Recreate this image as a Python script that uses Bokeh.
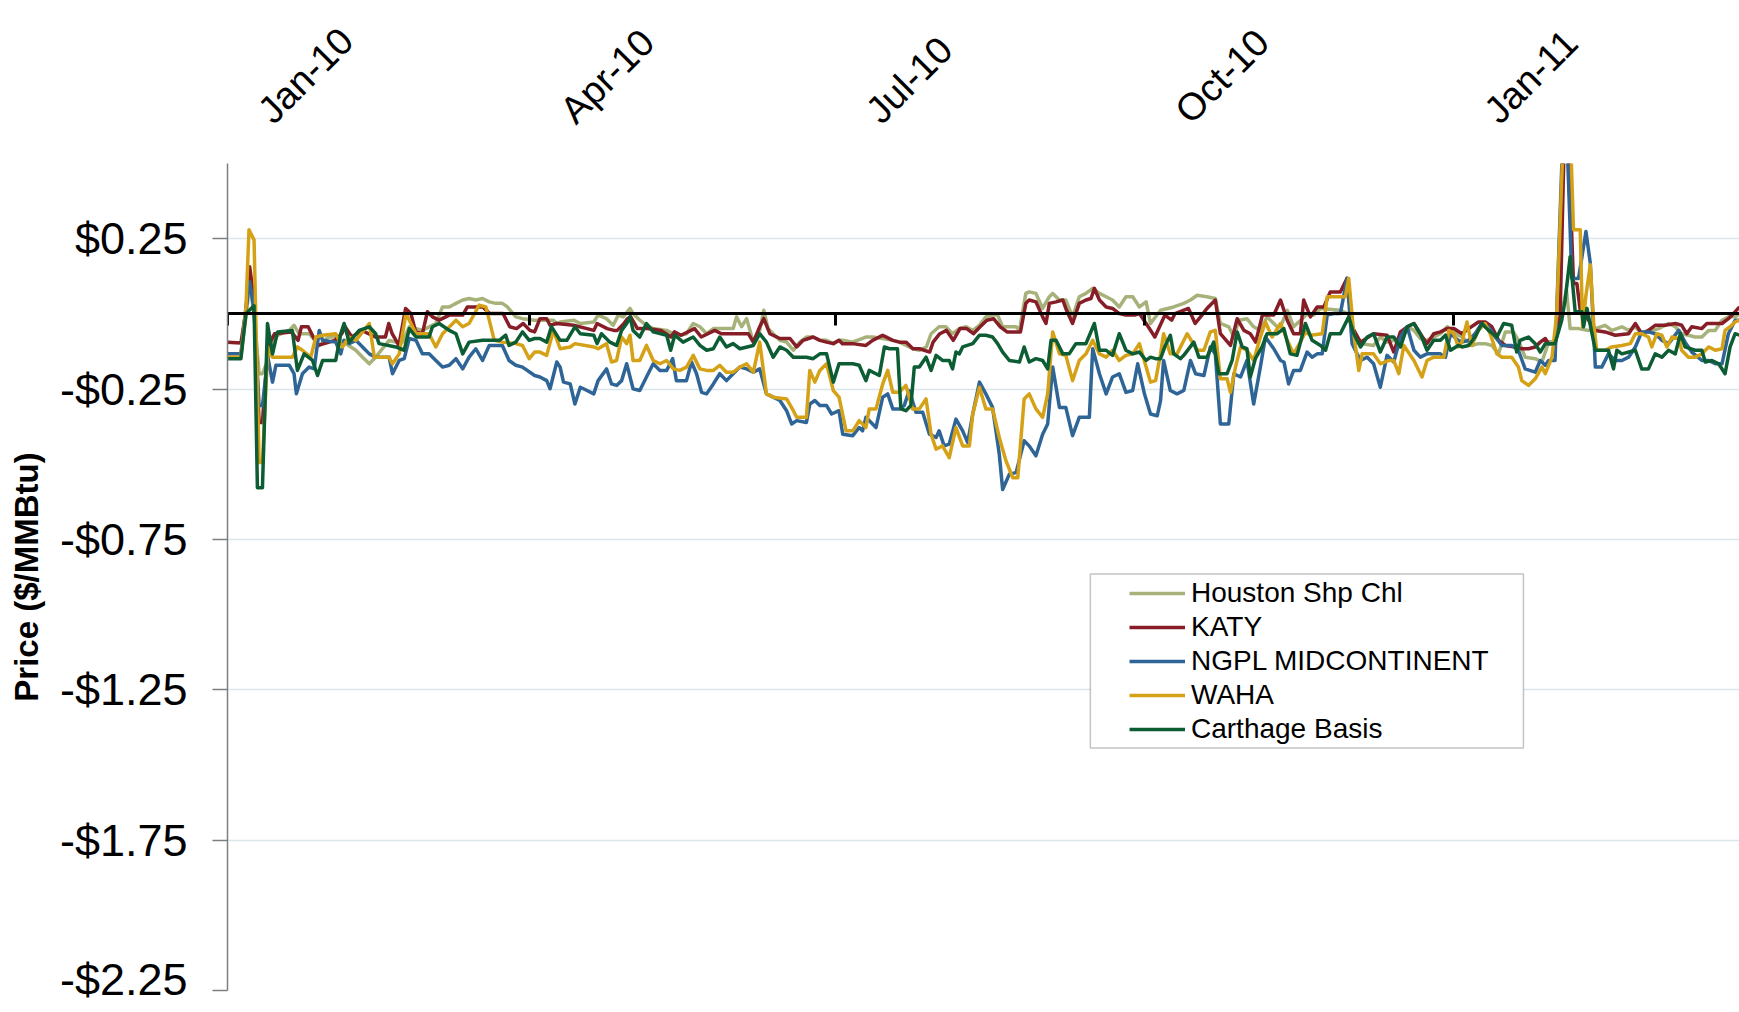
import math
import numpy as np
import pandas as pd
from bokeh.plotting import figure
from bokeh.models import (Range1d, FixedTicker, DatetimeAxis, DatetimeTickFormatter,
                          CustomJSTickFormatter, Legend, LegendItem, BoxAnnotation)
from bokeh.embed import file_html
from bokeh.resources import INLINE

# ---------------- data (day offset from 2010-01-01, $/MMBtu) ----------------
houston = [(0,-0.133),(4,-0.133),(5.5,-0.01),(6.6,0.1),(7.9,0.0),(9.4,-0.199),(10.4,-0.199),(12,-0.155),(13.4,-0.088),(15,-0.071),(18.4,-0.055),(19.8,-0.038),(21.3,-0.066),(24.3,-0.066),(27.3,-0.105),(30,-0.077),(32.2,-0.077),(38.2,-0.121),(40.2,-0.144),(42.2,-0.166),(44.1,-0.144),(48.1,-0.088),(50.1,-0.094),(52.1,-0.094),(54.1,-0.043),(58,-0.055),(62,-0.032),(64,0.023),(66,0.023),(68,0.035),(70,0.046),(71.9,0.051),(73.9,0.046),(75.9,0.051),(77.9,0.04),(79.9,0.035),(81.8,0.035),(83.3,0.023),(85.8,-0.01),(87.8,-0.016),(91.4,-0.021),
    (93,-0.021),(97,-0.021),(98,-0.032),(99,-0.027),(103,-0.021),(105,-0.032),(109,-0.027),(110.3,-0.004),(112.8,-0.016),(114.8,-0.038),(116.3,-0.004),(117.8,-0.01),(119.8,0.018),(120.7,0.001),(122.7,-0.021),(124.7,-0.038),(126.7,-0.049),(130.7,-0.055),(132.7,-0.066),(134.6,-0.071),(136.6,-0.066),(138.6,-0.032),(140.6,-0.043),(142.6,-0.066),(144.6,-0.049),(150.5,-0.049),(151.5,-0.01),(153,-0.043),(154.5,-0.016),(156.5,-0.094),(158.4,-0.055),(159.6,0.012),(160.9,-0.049),(162.4,-0.066),(164.4,-0.088),(166.4,-0.094),(168.4,-0.121),(170.3,-0.094),(172.3,-0.077),(174.3,-0.077),(176.3,-0.088),(178.3,-0.088),(180.3,-0.099),(182,-0.088),
    (183.1,-0.088),(186,-0.094),(190,-0.077),(192,-0.077),(195,-0.082),(198,-0.088),(200,-0.094),(204,-0.116),(206,-0.121),(208,-0.11),(209.4,-0.066),(211.8,-0.043),(213.8,-0.043),(215.8,-0.066),(217.8,-0.049),(219.8,-0.043),(221.8,-0.055),(223.8,-0.038),(225.7,-0.01),(227.7,-0.004),(229.2,-0.004),(230.7,-0.043),(234.7,-0.043),(235.7,-0.055),(237.6,0.068),(238.6,0.073),(240.6,0.068),(242.6,0.018),(244.6,0.057),(245.6,0.068),(247.6,0.046),(249.5,0.046),(251.5,-0.01),(253.5,0.057),(255.5,0.068),(257.5,0.085),(259.5,0.068),(261.5,0.057),(263.4,0.046),(265.4,0.023),(267.4,0.057),(269.4,0.057),(271.4,0.023),(273.4,0.04),
    (274.7,-0.032),(277.7,0.012),(281.6,0.023),(284.6,0.035),(286.6,0.046),(288.6,0.062),(291.5,0.057),(294,0.051),(295.5,-0.032),(298,-0.043),(299.5,-0.077),(301,-0.021),(303.4,-0.016),(305.4,-0.043),(307.4,-0.055),(309.4,-0.01),(312.4,-0.043),(313.4,-0.043),(315.4,0.012),(317.3,-0.043),(321.3,-0.001),(323.3,-0.004),(325.3,0.018),(331.2,0.012),(333.7,-0.001),(335.2,-0.066),(337.2,-0.099),(341.1,-0.105),(343.1,-0.077),(345.1,-0.094),(347.1,-0.088),(349.1,-0.099),(351.1,-0.043),(353.1,-0.055),(355,-0.082),(357,-0.088),(361,-0.066),(363,-0.043),(364.5,-0.055),(366.3,-0.071),
    (367.4,-0.077),(370.3,-0.105),(372.3,-0.099),(374.3,-0.099),(376.3,-0.105),(378.3,-0.133),(380.3,-0.06),(382.7,-0.06),(384.2,-0.088),(386.2,-0.144),(389.2,-0.149),(391.2,-0.16),(393.2,-0.094),(395.1,-0.088),(396.6,-0.021),(398.5,0.08),(399.6,-0.049),(402.1,-0.049),(405.1,-0.055),(407.1,-0.049),(410,-0.038),(412,-0.055),(415,-0.043),(417,-0.055),(419,-0.043),(420.9,-0.066),(422.9,-0.06),(425.9,-0.049),(428.9,-0.032),(430.9,-0.043),(432.8,-0.066),(434.8,-0.071),(436.8,-0.077),(438.8,-0.077),(440.8,-0.055),(442.8,-0.055),(444.8,-0.021),(446.7,-0.01),(448.7,-0.01),(450,0.001)]

katy = [(0,-0.094),(4,-0.097),(5.5,0.012),(6.6,0.157),(7.9,0.046),(9.4,-0.361),(10.4,-0.361),(12,-0.11),(14,-0.066),(19,-0.06),(21,-0.088),(22,-0.043),(24,-0.043),(26,-0.088),(27,-0.105),(32,-0.088),(34,-0.066),(35,-0.043),(37,-0.077),(40,-0.055),(42,-0.066),(44,-0.077),(47,-0.077),(48,-0.032),(49,-0.066),(51,-0.105),(53,0.018),(54.6,0.001),(56,-0.06),(58,-0.066),(59.5,0.007),(61,-0.01),(63,-0.021),(66,-0.004),(70,-0.004),(71.4,0.023),(76,0.023),(78,0.001),(82,0.001),(84,-0.043),(86,-0.049),(88,-0.032),(90,-0.055),(91.4,-0.06),
    (93,-0.016),(95,-0.016),(96,-0.038),(98,-0.032),(103,-0.038),(107,-0.049),(109,-0.055),(110,-0.032),(113,-0.049),(115,-0.055),(116,-0.055),(118,-0.032),(119,-0.016),(120,-0.01),(122,-0.049),(125,-0.049),(129,-0.055),(132,-0.077),(133,-0.06),(135,-0.071),(139,-0.049),(141,-0.077),(145,-0.055),(147,-0.066),(152.5,-0.066),(155,-0.066),(156.5,-0.094),(158.4,-0.043),(159.6,-0.016),(161.4,-0.066),(164.4,-0.082),(167.4,-0.082),(169.4,-0.11),(171.3,-0.088),(174.3,-0.077),(176.3,-0.088),(178.3,-0.094),(180.3,-0.099),(182,-0.088),
    (183,-0.099),(186,-0.099),(190,-0.105),(192,-0.088),(195,-0.071),(198,-0.088),(200,-0.094),(202,-0.094),(204,-0.116),(206,-0.116),(209,-0.127),(210,-0.094),(212,-0.066),(214,-0.055),(216,-0.088),(218,-0.049),(220,-0.049),(222,-0.066),(224,-0.043),(226,-0.021),(228,-0.016),(230,-0.043),(232,-0.06),(236,-0.06),(237.6,0.035),(238.6,0.046),(240.6,0.04),(242.6,-0.01),(243.6,-0.032),(244.6,0.035),(246.6,0.04),(248.6,0.046),(249.5,0.018),(251.5,-0.032),(253.5,0.035),(255.5,0.046),(257,0.051),(258,0.085),(259.5,0.046),(261.5,0.023),(263.4,0.018),(265.4,0.001),(267.4,-0.004),(270,-0.004),(271.4,0.001),(273.4,-0.032),
    (276,-0.077),(279,-0.004),(281,-0.021),(282,0.001),(286,0.018),(288,-0.032),(290,-0.004),(291.5,0.018),(294,0.046),(295.5,-0.066),(298.5,-0.105),(300.5,-0.016),(302.5,-0.055),(304.4,-0.066),(306,-0.094),(308,-0.004),(311.4,-0.004),(313.4,0.046),(315.4,-0.021),(317.3,-0.066),(319.3,-0.066),(320.3,0.046),(322.3,-0.01),(324.3,0.023),(326.3,0.023),(328.2,0.073),(331.2,0.073),(333.2,0.118),(334.7,-0.043),(337.2,-0.094),(341.1,-0.066),(345.1,-0.071),(347.1,-0.127),(349.1,-0.06),(351.1,-0.043),(353.1,-0.032),(355,-0.066),(357,-0.099),(359,-0.066),(361,-0.06),(363,-0.049),(365,-0.049),
    (367.4,-0.066),(369.4,-0.049),(372.3,-0.027),(374.3,-0.027),(376.3,-0.043),(378.3,-0.088),(380.3,-0.105),(383.2,-0.11),(385.2,-0.116),(387.2,-0.116),(389.2,-0.11),(390.7,-0.094),(392.2,-0.082),(393.2,-0.099),(395.1,-0.099),(396.6,-0.01),(398.3,0.8),(400.6,0.101),(401.6,0.101),(402.6,0.012),(403.6,0.012),(405.1,-0.021),(407.1,-0.055),(410,-0.06),(413,-0.071),(417,-0.066),(419,-0.032),(420.9,-0.066),(422.9,-0.055),(424.9,-0.038),(427.9,-0.038),(430.9,-0.032),(432.8,-0.038),(434.3,-0.066),(435.8,-0.043),(438.8,-0.049),(440.3,-0.032),(442.8,-0.032),(444.8,-0.032),(446.7,-0.016),(448.2,0.001),(450,0.023)]

ngpl = [(0,-0.133),(4,-0.133),(5.5,0.023),(6.6,0.107),(7.9,0.012),(9.4,-0.305),(10.4,-0.305),(12,-0.144),(13.4,-0.227),(14.4,-0.171),(18.4,-0.171),(19.8,-0.199),(20.5,-0.266),(22.3,-0.199),(24.3,-0.177),(25.8,-0.183),(27.3,-0.055),(28.3,-0.088),(32.2,-0.094),(33.7,-0.133),(34.7,-0.088),(36.2,-0.099),(38.2,-0.088),(40.2,-0.11),(42.2,-0.133),(44.1,-0.144),(48.1,-0.144),(49.1,-0.199),(51.1,-0.155),(52.6,-0.149),(54.1,-0.082),(56.1,-0.088),(58,-0.133),(60,-0.133),(62,-0.155),(64,-0.177),(66,-0.171),(68,-0.149),(70,-0.183),(71.9,-0.144),(73.9,-0.116),(75.9,-0.155),(77.9,-0.105),(81.8,-0.105),(83.8,-0.155),(85.8,-0.171),(87.8,-0.177),(91.4,-0.205),
    (93,-0.21),(95,-0.222),(96,-0.249),(98,-0.16),(99,-0.177),(100,-0.227),(102,-0.233),(103.4,-0.3),(105,-0.244),(107,-0.255),(109,-0.266),(110.3,-0.222),(112.8,-0.183),(114.3,-0.233),(115.8,-0.238),(117.3,-0.222),(118.8,-0.166),(120.7,-0.249),(122.7,-0.255),(124.7,-0.21),(126.7,-0.166),(128.7,-0.188),(130.7,-0.188),(132.5,-0.149),(133.6,-0.222),(136.6,-0.222),(138.1,-0.16),(139.6,-0.199),(141.1,-0.261),(142.6,-0.266),(144.6,-0.233),(146.5,-0.199),(148.5,-0.222),(150.5,-0.199),(152.5,-0.177),(154.5,-0.183),(156.5,-0.194),(158.4,-0.183),(160.4,-0.266),(162.4,-0.277),(164.4,-0.288),(166.4,-0.322),(167.9,-0.366),(169.4,-0.355),(172.3,-0.361),(173.3,-0.3),(174.8,-0.288),(176.3,-0.305),(178.3,-0.305),(179.8,-0.333),(182,-0.322),
    (183.1,-0.4),(186.1,-0.405),(188,-0.378),(189,-0.389),(190,-0.344),(193,-0.378),(195,-0.277),(196.5,-0.266),(198,-0.316),(200,-0.316),(201.4,-0.305),(202.9,-0.255),(204.9,-0.327),(206.9,-0.327),(208.9,-0.4),(210.9,-0.411),(211.8,-0.389),(213.3,-0.439),(214.8,-0.433),(216.8,-0.35),(218.8,-0.389),(220.3,-0.428),(221.8,-0.333),(223.8,-0.227),(225.7,-0.266),(227.7,-0.311),(229.7,-0.467),(230.7,-0.584),(232.7,-0.533),(234.7,-0.528),(237.1,-0.422),(238.6,-0.439),(240.6,-0.472),(242.6,-0.4),(244.1,-0.366),(245.6,-0.177),(247.6,-0.311),(249.5,-0.311),(251.5,-0.405),(253.5,-0.344),(256.5,-0.344),(257.5,-0.116),(259.5,-0.199),(261.5,-0.266),(263.4,-0.21),(265.4,-0.199),(267.4,-0.261),(269.4,-0.255),(270.9,-0.166),(272.9,-0.266),(274.7,-0.333),
    (276.7,-0.339),(277.7,-0.288),(278.6,-0.155),(280.6,-0.255),(282.6,-0.266),(284.6,-0.255),(286.6,-0.155),(288.1,-0.199),(290.6,-0.205),(292.5,-0.11),(294,-0.133),(295.5,-0.366),(298,-0.366),(299.5,-0.199),(301.5,-0.21),(303.4,-0.155),(305.4,-0.3),(307.4,-0.177),(308.9,-0.077),(311.4,-0.116),(313.4,-0.155),(314.4,-0.16),(315.8,-0.233),(317.3,-0.188),(319.3,-0.188),(321.3,-0.127),(322.8,-0.144),(324.3,-0.133),(325.8,-0.133),(327.3,-0.004),(329.2,0.001),(331.2,0.001),(333.2,0.118),(334.7,-0.099),(337.2,-0.155),(339.2,-0.144),(341.1,-0.166),(343.1,-0.244),(345.1,-0.138),(347.1,-0.16),(349.1,-0.077),(351.1,-0.043),(353.1,-0.121),(355,-0.144),(357,-0.133),(361,-0.133),(362.5,-0.144),(364,-0.066),(366.3,-0.088),
    (367.4,-0.094),(369.4,-0.088),(371.3,-0.066),(373.3,-0.032),(375.3,-0.043),(377.3,-0.077),(379.3,-0.105),(382.2,-0.105),(384.2,-0.121),(386.2,-0.183),(389.2,-0.194),(390.7,-0.155),(392.2,-0.171),(393.2,-0.155),(395.1,-0.155),(397.1,0.49),(398.3,0.7),(400.1,0.118),(402.1,0.118),(404.3,0.274),(405.6,0.168),(407.1,-0.177),(409,-0.177),(411,-0.133),(413,-0.155),(415,-0.155),(417,-0.144),(419,-0.11),(420.9,-0.06),(422.9,-0.06),(424.9,-0.066),(426.9,-0.088),(428.9,-0.099),(431.9,-0.055),(433.8,-0.094),(435.8,-0.127),(438.8,-0.155),(440.8,-0.155),(442.8,-0.166),(444.8,-0.166),(446.7,-0.066),(448.7,-0.021),(450,-0.021)]

waha = [(0,-0.144),(4,-0.144),(5.5,0.023),(6.4,0.28),(7.9,0.246),(9.4,-0.494),(10.4,-0.494),(12,-0.11),(13.4,-0.144),(19.3,-0.144),(20.8,-0.11),(22.3,-0.121),(24.8,-0.144),(26.3,-0.077),(28.3,-0.071),(32.2,-0.066),(34.2,-0.11),(36.2,-0.077),(38.2,-0.088),(42.2,-0.032),(43.7,-0.144),(48.1,-0.144),(49.1,-0.166),(51.1,-0.133),(53.1,0.001),(54.6,-0.032),(56.1,-0.066),(60,-0.066),(62,-0.11),(64,-0.066),(68,-0.021),(70,-0.043),(71.9,-0.032),(74.9,0.029),(76.9,0.023),(77.9,-0.021),(79.4,-0.088),(81.8,-0.094),(85.8,-0.099),(87.8,-0.105),(89.8,-0.149),(91.4,-0.127),
    (93,-0.127),(95,-0.138),(97,-0.055),(99,-0.116),(102,-0.11),(103.4,-0.099),(109,-0.11),(110.3,-0.116),(112.8,-0.099),(114.3,-0.16),(115.8,-0.155),(117.3,-0.077),(118.8,-0.099),(119.8,-0.071),(120.7,-0.155),(122.7,-0.155),(124.7,-0.105),(126.7,-0.155),(128.7,-0.166),(130.7,-0.155),(132.7,-0.183),(134.6,-0.188),(136.6,-0.177),(138.6,-0.138),(140.6,-0.183),(142.6,-0.188),(144.6,-0.188),(146.5,-0.171),(148.5,-0.194),(150.5,-0.194),(152.5,-0.177),(154.5,-0.166),(156.5,-0.194),(158.4,-0.094),(160.4,-0.266),(162.4,-0.277),(166.4,-0.283),(168.4,-0.322),(169.4,-0.344),(172.3,-0.344),(173.3,-0.188),(174.8,-0.227),(176.3,-0.188),(178.3,-0.166),(180.3,-0.255),(182,-0.277),
    (184.1,-0.389),(186.1,-0.389),(188,-0.355),(190,-0.378),(191,-0.316),(193,-0.316),(195,-0.233),(196.5,-0.188),(198,-0.261),(199.9,-0.261),(201.9,-0.238),(203.9,-0.316),(205.9,-0.316),(207.9,-0.283),(209.4,-0.4),(210.9,-0.45),(212.8,-0.439),(214.8,-0.478),(216.8,-0.378),(218.8,-0.439),(220.8,-0.439),(221.8,-0.333),(223.8,-0.244),(225.7,-0.316),(227.7,-0.316),(229.7,-0.411),(231.7,-0.489),(233.7,-0.545),(235.2,-0.545),(237.1,-0.283),(238.6,-0.266),(240.6,-0.316),(242.6,-0.344),(244.1,-0.266),(245.6,-0.06),(247.6,-0.133),(249.5,-0.138),(251.5,-0.222),(253.5,-0.155),(255.5,-0.133),(257.5,-0.088),(259.5,-0.133),(261.5,-0.144),(263.4,-0.121),(265.4,-0.155),(267.4,-0.138),(269.4,-0.133),(271.4,-0.099),(273.4,-0.177),(274.7,-0.227),
    (276.2,-0.222),(277.7,-0.133),(278.6,-0.066),(280.6,-0.133),(282.6,-0.133),(285.6,-0.066),(288.6,-0.121),(290.6,-0.121),(292.5,-0.06),(294,-0.055),(295.5,-0.216),(297.5,-0.216),(298.5,-0.261),(300,-0.177),(301.5,-0.11),(303.4,-0.121),(305.4,-0.155),(307.4,-0.077),(308.9,-0.027),(310.9,-0.077),(313.4,-0.032),(315.4,-0.088),(317.3,-0.133),(319.3,-0.094),(320.8,-0.06),(322.3,-0.071),(325.8,-0.066),(327.3,0.057),(332.7,0.057),(333.7,0.118),(335.2,-0.066),(336.7,-0.188),(337.7,-0.133),(341.1,-0.133),(343.1,-0.166),(345.6,-0.155),(347.1,-0.155),(348.6,-0.199),(350.1,-0.105),(353.1,-0.155),(355.5,-0.21),(357,-0.155),(359,-0.144),(362,-0.144),(363.5,-0.055),(365,-0.066),(366.3,-0.11),
    (367.4,-0.094),(368.9,-0.027),(370.3,-0.105),(372.3,-0.055),(374.3,-0.032),(375.8,-0.066),(377.8,-0.133),(379.3,-0.144),(382.2,-0.144),(384.2,-0.177),(385.2,-0.222),(387.2,-0.238),(389.2,-0.216),(391.2,-0.177),(392.2,-0.199),(394.2,-0.144),(395.6,0.001),(397.6,0.6),(398.5,1.0),(400.6,0.28),(402.6,0.28),(403.3,-0.043),(404.3,0.062),(405.6,0.163),(406.6,-0.032),(407.5,-0.121),(410,-0.121),(412,-0.11),(415,-0.105),(417.5,-0.099),(419,-0.066),(420.9,-0.066),(422.9,-0.077),(423.9,-0.11),(425.4,-0.066),(426.9,-0.071),(428.4,-0.11),(429.9,-0.077),(431.9,-0.082),(432.8,-0.121),(434.8,-0.144),(436.8,-0.144),(438.8,-0.133),(440.8,-0.11),(442.8,-0.121),(444.8,-0.116),(445.7,-0.055),(447.2,-0.043),(448.7,-0.027),(450,-0.021)]

carthage = [(0,-0.149),(4,-0.149),(5.5,0.001),(7.9,0.027),(8.9,-0.578),(10.4,-0.578),(11.9,-0.032),(13.4,-0.133),(14.9,-0.06),(19.3,-0.055),(20.8,-0.188),(22.8,-0.133),(25.3,-0.155),(26.8,-0.205),(28.3,-0.155),(32.2,-0.155),(33.7,-0.066),(34.7,-0.032),(36.2,-0.094),(39.2,-0.055),(42.2,-0.043),(44.1,-0.066),(45.1,-0.099),(50.1,-0.11),(52.6,-0.121),(54.1,-0.049),(56.1,-0.077),(60,-0.077),(61,-0.043),(63,-0.032),(66,-0.055),(68,-0.066),(70,-0.133),(71.9,-0.094),(75.9,-0.088),(80.9,-0.088),(82.8,-0.071),(83.8,-0.105),(85.8,-0.094),(87.8,-0.06),(89.8,-0.088),(91.4,-0.082),
    (93,-0.082),(95,-0.094),(96.4,-0.043),(99,-0.088),(101,-0.088),(103.4,-0.043),(105,-0.066),(109,-0.071),(110,-0.099),(111.3,-0.066),(113.8,-0.094),(115.8,-0.105),(117.3,-0.055),(118.8,-0.032),(119.8,-0.01),(120.7,-0.055),(122.7,-0.077),(124.7,-0.032),(126.7,-0.06),(130.7,-0.071),(131.9,-0.121),(133.1,-0.071),(135.6,-0.094),(138.6,-0.077),(140.6,-0.105),(142.6,-0.121),(144.6,-0.116),(146.5,-0.077),(148.5,-0.11),(150.5,-0.099),(152.5,-0.116),(156.5,-0.105),(158.4,-0.066),(160.4,-0.094),(162.4,-0.144),(164.4,-0.11),(166.4,-0.121),(168.4,-0.144),(172.3,-0.144),(174.3,-0.149),(176.3,-0.133),(178.3,-0.133),(180.3,-0.227),(182,-0.166),
    (186.1,-0.166),(188,-0.171),(190,-0.222),(191,-0.188),(193,-0.199),(194,-0.205),(195.5,-0.11),(197,-0.116),(199.4,-0.116),(200.4,-0.316),(201.9,-0.322),(203.4,-0.305),(204.4,-0.177),(205.9,-0.177),(207.9,-0.144),(209.4,-0.188),(210.9,-0.138),(212.8,-0.155),(214.8,-0.155),(215.8,-0.183),(216.8,-0.127),(217.8,-0.133),(218.8,-0.11),(221.8,-0.099),(223.8,-0.071),(225.7,-0.071),(227.7,-0.077),(229.2,-0.099),(230.7,-0.127),(232.7,-0.155),(235.7,-0.16),(237.1,-0.11),(238.6,-0.16),(240.6,-0.149),(242.6,-0.155),(244.1,-0.183),(245.1,-0.088),(246.6,-0.088),(248.6,-0.133),(250.5,-0.133),(252.5,-0.099),(255.5,-0.099),(258,-0.032),(259.5,-0.121),(261.5,-0.121),(263.4,-0.138),(265.4,-0.066),(267.4,-0.121),(269.4,-0.133),(271.4,-0.127),(273.4,-0.155),(274.7,-0.144),
    (276.2,-0.149),(277.7,-0.149),(279.1,-0.105),(280.6,-0.071),(281.6,-0.133),(283.6,-0.149),(284.6,-0.138),(287.6,-0.094),(289.1,-0.144),(291.5,-0.144),(293.5,-0.094),(295,-0.199),(297.5,-0.199),(299,-0.155),(300.5,-0.06),(302,-0.11),(303.4,-0.116),(304.4,-0.21),(305.9,-0.149),(307.9,-0.11),(309.4,-0.066),(312.4,-0.066),(314.4,-0.049),(316.3,-0.133),(318.3,-0.138),(320.8,-0.032),(322.8,-0.088),(325.3,-0.105),(326.8,-0.121),(328.2,-0.066),(331.2,-0.066),(333.7,-0.01),(335.2,-0.066),(337.2,-0.11),(339.2,-0.077),(341.1,-0.066),(343.1,-0.127),(345.1,-0.077),(347.1,-0.077),(349.1,-0.11),(351.1,-0.043),(353.1,-0.032),(355,-0.066),(357,-0.121),(359,-0.088),(361,-0.088),(362.5,-0.071),(364,-0.121),(366.3,-0.105),
    (367.4,-0.11),(369.4,-0.105),(371.3,-0.077),(373.3,-0.032),(375.3,-0.055),(377.8,-0.077),(379.8,-0.032),(382.2,-0.038),(383.7,-0.127),(384.7,-0.088),(387.2,-0.077),(389.2,-0.099),(390.7,-0.127),(392.2,-0.099),(395.1,-0.099),(397.1,-0.021),(398.1,0.046),(399.6,0.19),(401.1,0.007),(403.1,0.007),(403.6,-0.043),(404.6,0.018),(406.1,-0.066),(407.1,-0.121),(411,-0.121),(412.5,-0.183),(413.5,-0.121),(415,-0.133),(419,-0.121),(420.9,-0.183),(422.9,-0.183),(424.9,-0.133),(426.9,-0.144),(428.9,-0.121),(430.9,-0.133),(432.4,-0.066),(433.8,-0.11),(436.8,-0.121),(438.8,-0.121),(439.8,-0.16),(441.8,-0.155),(443.8,-0.166),(445.7,-0.199),(447.2,-0.11),(448.7,-0.066),(450,-0.071)]

series_names = ["Houston Shp Chl", "KATY", "NGPL MIDCONTINENT", "WAHA", "Carthage Basis"]
series_data = [houston, katy, ngpl, waha, carthage]
series_colors = ["#a7b27a", "#861d27", "#2e6596", "#d5a116", "#0c5d33"]

x_tick_dates = ["2010-01-01", "2010-04-01", "2010-07-01", "2010-10-01", "2011-01-01"]
y_ticks = [0.25, -0.25, -0.75, -1.25, -1.75, -2.25]
y_min, y_max = -2.25, 0.5

BASE = pd.Timestamp("2010-01-01")


def to_dt(days):
    return BASE + pd.to_timedelta(np.asarray(days, dtype=float), unit="D")


def ms(ts):
    return pd.Timestamp(ts).value / 1e6


FONT = "Liberation Sans"
x_end_days = 450
label_shift = pd.Timedelta(days=11)   # rotated month labels sit a little right of their ticks

p = figure(width=1739, height=1004, x_axis_type="datetime", x_axis_location="above",
           x_range=Range1d(ms(BASE), ms(BASE + pd.Timedelta(days=x_end_days))),
           y_range=Range1d(y_min, y_max),
           output_backend="svg", toolbar_location=None,
           min_border_left=227, min_border_top=163, min_border_right=0, min_border_bottom=14)
p.outline_line_color = None
p.background_fill_color = "white"
p.border_fill_color = "white"

tick_ms = [ms(d) for d in x_tick_dates]
label_ms = [ms(pd.Timestamp(d) + label_shift) for d in x_tick_dates]

# top axis: month labels only
xa = p.xaxis[0]
xa.ticker = FixedTicker(ticks=label_ms)
fmt = "%b-%y"
xa.formatter = DatetimeTickFormatter(milliseconds=fmt, seconds=fmt, minsec=fmt, minutes=fmt,
                                     hourmin=fmt, hours=fmt, days=fmt, months=fmt, years=fmt)
xa.axis_line_color = None
xa.major_tick_line_color = None
xa.minor_tick_line_color = None
xa.major_tick_out = 0
xa.major_tick_in = 0
xa.major_label_orientation = math.pi / 4
xa.major_label_text_font = FONT
xa.major_label_text_font_size = "38px"
xa.major_label_text_line_height = 0.6
xa.major_label_text_color = "black"
xa.major_label_standoff = 47

# zero line with month ticks
zero_axis = DatetimeAxis(ticker=FixedTicker(ticks=tick_ms), fixed_location=0,
                         formatter=CustomJSTickFormatter(code="return ''"),
                         axis_line_color="black", axis_line_width=3,
                         major_tick_line_color="black", major_tick_line_width=3,
                         major_tick_out=12, major_tick_in=0, minor_tick_line_color=None,
                         major_label_standoff=0)
p.add_layout(zero_axis, "below")

ya = p.yaxis[0]
yt = FixedTicker(ticks=y_ticks)
ya.ticker = yt
ya.formatter = CustomJSTickFormatter(code="return (tick < 0 ? '-$' : '$') + Math.abs(tick).toFixed(2);")
ya.axis_line_color = "#7f7f7f"
ya.axis_line_width = 1.5
ya.major_tick_line_color = "#7f7f7f"
ya.major_tick_line_width = 1.5
ya.major_tick_out = 15
ya.major_tick_in = 0
ya.minor_tick_line_color = None
ya.major_label_text_font = FONT
ya.major_label_text_font_size = "45px"
ya.major_label_text_color = "black"
ya.major_label_standoff = 25
ya.axis_label = "Price ($/MMBtu)"
ya.axis_label_text_font = FONT
ya.axis_label_text_font_size = "33px"
ya.axis_label_text_font_style = "bold"
ya.axis_label_text_color = "black"
ya.axis_label_standoff = 12

p.xgrid.visible = False
p.ygrid.ticker = yt
p.ygrid.grid_line_color = "#dbe6ea"
p.ygrid.grid_line_width = 1.5

renderers = []
for data, color in zip(series_data, series_colors):
    d, v = zip(*data)
    r = p.line(x=to_dt(d), y=list(v), line_color=color, line_width=3.5, line_join="round")
    renderers.append(r)

box = BoxAnnotation(left=ms(BASE + pd.Timedelta(days=256.8)), right=ms(BASE + pd.Timedelta(days=385.7)),
                    top=-0.865, bottom=-1.444, fill_color="white", fill_alpha=1.0,
                    line_color="#3a3a3a", line_width=1.5)
p.add_layout(box)

legend = Legend(items=[LegendItem(label=n, renderers=[r]) for n, r in zip(series_names, renderers)],
                location=(902, 244), padding=2, margin=0, spacing=0, label_height=34,
                glyph_width=56, glyph_height=20, label_standoff=6,
                label_text_font=FONT, label_text_font_size="28px", label_text_color="black",
                border_line_color=None, background_fill_alpha=0)
p.add_layout(legend, "center")

open("out.html", "w").write(file_html(p, INLINE))
